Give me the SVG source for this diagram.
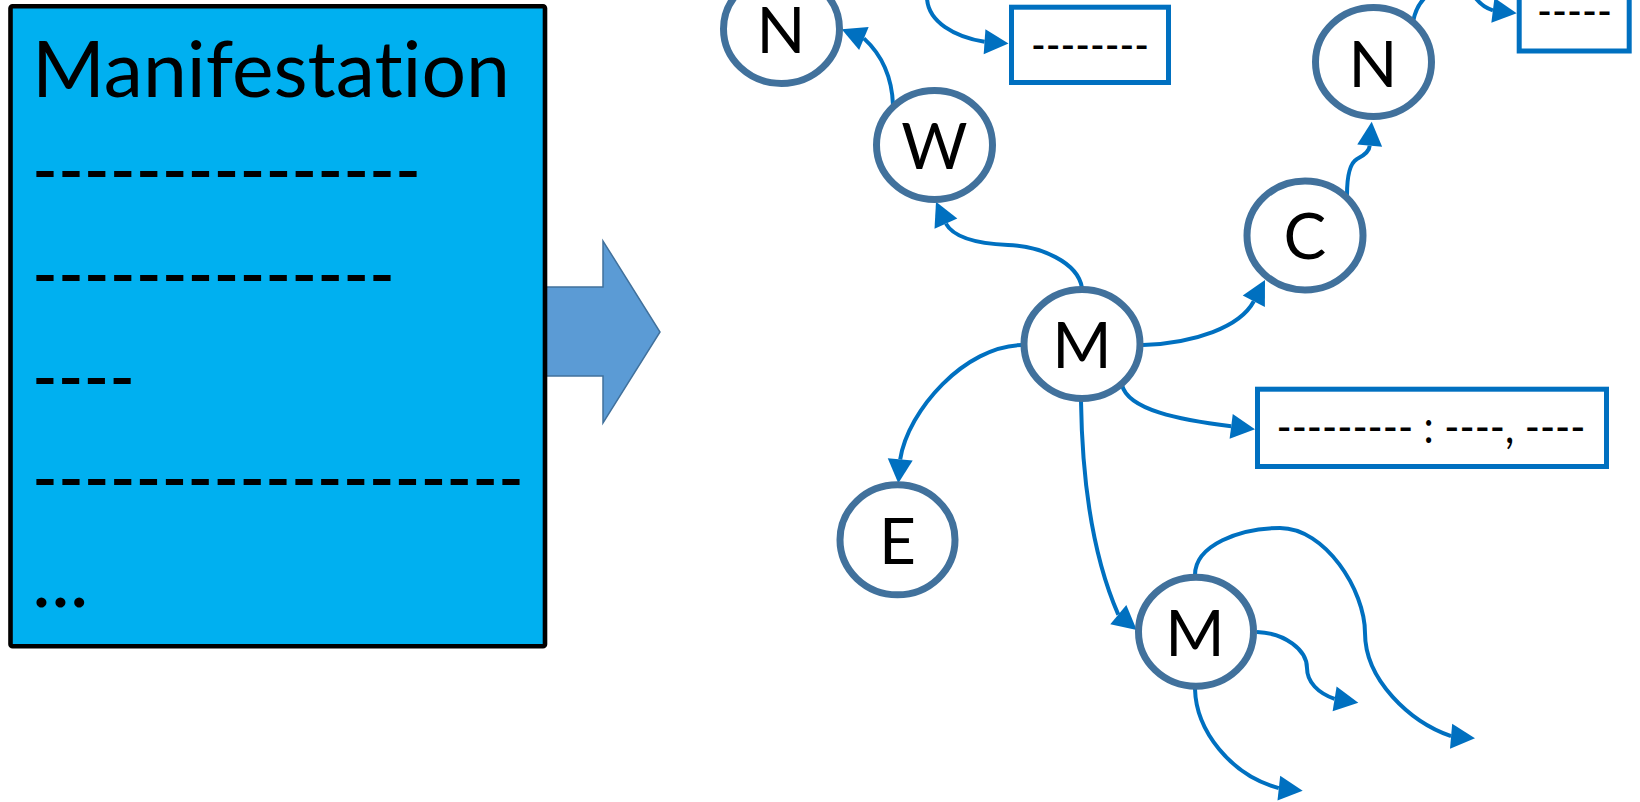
<svg xmlns="http://www.w3.org/2000/svg" xmlns:xlink="http://www.w3.org/1999/xlink" width="1640" height="802" viewBox="0 0 1640 802">
  <style>
    .txt { font-family: Lato, "Open Sans", "Liberation Sans", sans-serif; fill: #000000; font-variant-ligatures: none; font-feature-settings: "liga" 0, "clig" 0; }
    .node ellipse { fill: #FFFFFF; stroke: #41719C; stroke-width: 7; }
    .node text { font-size: 64px; text-anchor: middle; }
    .box rect { fill: #FFFFFF; stroke: #0070C0; stroke-width: 5; }
    .box text { font-size: 46px; text-anchor: middle; }
    .edge { fill: none; stroke: #0070C0; stroke-width: 4; }
    .head { fill: #0070C0; stroke: none; }
    .rows { font-size: 80px; }
  </style>
  <defs>
    <path id="ah" d="M0 0 L-24 -12.5 L-24 12.5 Z"/>
  </defs>

  <rect width="1640" height="802" fill="#FFFFFF"/>

  <g id="big-arrow">
    <polygon points="546,287 603,287 603,241 660,332 603,423 603,376 546,376" fill="#5B9BD5" stroke="#41719C" stroke-width="1.5"/>
  </g>

  <g id="manifestation-card">
    <rect x="10.5" y="6.3" width="534.5" height="640" rx="2" fill="#00B0F0" stroke="#000000" stroke-width="4.6"/>
    <text class="txt" x="32" y="97" font-size="78" textLength="478" lengthAdjust="spacingAndGlyphs">Manifestation</text>
    <text class="txt rows" x="32" y="198" textLength="389" lengthAdjust="spacingAndGlyphs">---------------</text>
    <text class="txt rows" x="32" y="302" textLength="363" lengthAdjust="spacingAndGlyphs">--------------</text>
    <text class="txt rows" x="32" y="405" textLength="103" lengthAdjust="spacingAndGlyphs">----</text>
    <text class="txt rows" x="32" y="506" textLength="492" lengthAdjust="spacingAndGlyphs">-------------------</text>
    <text class="txt rows" x="32" y="607">...</text>
  </g>

  <g id="connectors">
    <path class="edge" d="M927 -2 C928 22, 955 37, 984.6 41.8"/>
    <use href="#ah" class="head" transform="translate(1008.5 43.5) rotate(4)"/>

    <path class="edge" d="M893 105 C892 78, 882 55, 863.9 38.4"/>
    <use href="#ah" class="head" transform="translate(841.7 29.3) rotate(-157.6)"/>

    <path class="edge" d="M1082 288 C1078 262, 1040 246, 1008 245 C985 244, 955 240, 945.9 223.6"/>
    <use href="#ah" class="head" transform="translate(936 201.7) rotate(-114.4)"/>

    <path class="edge" d="M1143 345 C1195 343, 1240 327, 1253.8 301.2"/>
    <use href="#ah" class="head" transform="translate(1265 280) rotate(-62.2)"/>

    <path class="edge" d="M1347 195 C1347 176, 1350 163, 1357 159 C1365 155, 1369.5 151, 1369.7 145.6"/>
    <use href="#ah" class="head" transform="translate(1371.7 121.7) rotate(-85.2)"/>

    <path class="edge" d="M1413 22 C1420 -18, 1462 -20, 1474 -4 C1479 3, 1485 8, 1492.9 10.3"/>
    <use href="#ah" class="head" transform="translate(1516.7 13.3) rotate(7.2)"/>

    <path class="edge" d="M1122 385 C1128 410, 1180 420, 1231.2 426.3"/>
    <use href="#ah" class="head" transform="translate(1255 429.3) rotate(7.2)"/>

    <path class="edge" d="M1022 345 C965 346, 908 410, 900.2 459.4"/>
    <use href="#ah" class="head" transform="translate(898.3 483.3) rotate(94.6)"/>

    <path class="edge" d="M1081 401 C1082 470, 1090 550, 1118.3 614.6"/>
    <use href="#ah" class="head" transform="translate(1136.7 630) rotate(40)"/>

    <path class="edge" d="M1195 575 C1195 545, 1240 528, 1280 528 C1325 528, 1365 590, 1365 633 C1365 680, 1410 722, 1451.1 736.2"/>
    <use href="#ah" class="head" transform="translate(1475 738.3) rotate(5)"/>

    <path class="edge" d="M1257 632 C1285 633, 1307 650, 1307 668 C1307 682, 1318 693, 1334.6 698.9"/>
    <use href="#ah" class="head" transform="translate(1358.3 702.7) rotate(9.2)"/>

    <path class="edge" d="M1195 689 C1196 730, 1230 775, 1278.8 788.1"/>
    <use href="#ah" class="head" transform="translate(1302.7 790.7) rotate(6.2)"/>
  </g>

  <g id="box-top-left" class="box">
    <rect x="1011.5" y="7.2" width="157" height="75.3"/>
    <text class="txt" x="1090" y="61.4" textLength="118" lengthAdjust="spacingAndGlyphs">--------</text>
  </g>
  <g id="box-top-right" class="box">
    <rect x="1519.2" y="-22.5" width="110" height="73.5"/>
    <text class="txt" x="1574.5" y="27.4" textLength="75" lengthAdjust="spacingAndGlyphs">-----</text>
  </g>
  <g id="box-right" class="box">
    <rect x="1257.5" y="389.2" width="349" height="77.3"/>
    <text class="txt" x="1431" y="443" textLength="309" lengthAdjust="spacingAndGlyphs">--------- : ----, ----</text>
  </g>

  <g id="node-N1" class="node">
    <ellipse cx="781.5" cy="29" rx="58" ry="54.5"/>
    <text class="txt" x="781" y="53">N</text>
  </g>
  <g id="node-W" class="node">
    <ellipse cx="934.5" cy="145" rx="58" ry="54.5"/>
    <text class="txt" x="934.5" y="169">W</text>
  </g>
  <g id="node-M" class="node">
    <ellipse cx="1082" cy="344" rx="58" ry="54.5"/>
    <text class="txt" x="1082" y="368">M</text>
  </g>
  <g id="node-C" class="node">
    <ellipse cx="1305" cy="235.5" rx="58" ry="54.5"/>
    <text class="txt" x="1305" y="259">C</text>
  </g>
  <g id="node-N2" class="node">
    <ellipse cx="1373.5" cy="62" rx="58" ry="54.5"/>
    <text class="txt" x="1373" y="86.5">N</text>
  </g>
  <g id="node-E" class="node">
    <ellipse cx="897.5" cy="539.8" rx="57.5" ry="55"/>
    <text class="txt" x="897.5" y="563.5">E</text>
  </g>
  <g id="node-M2" class="node">
    <ellipse cx="1196" cy="631.7" rx="57.5" ry="54.5"/>
    <text class="txt" x="1195" y="656">M</text>
  </g>
</svg>
